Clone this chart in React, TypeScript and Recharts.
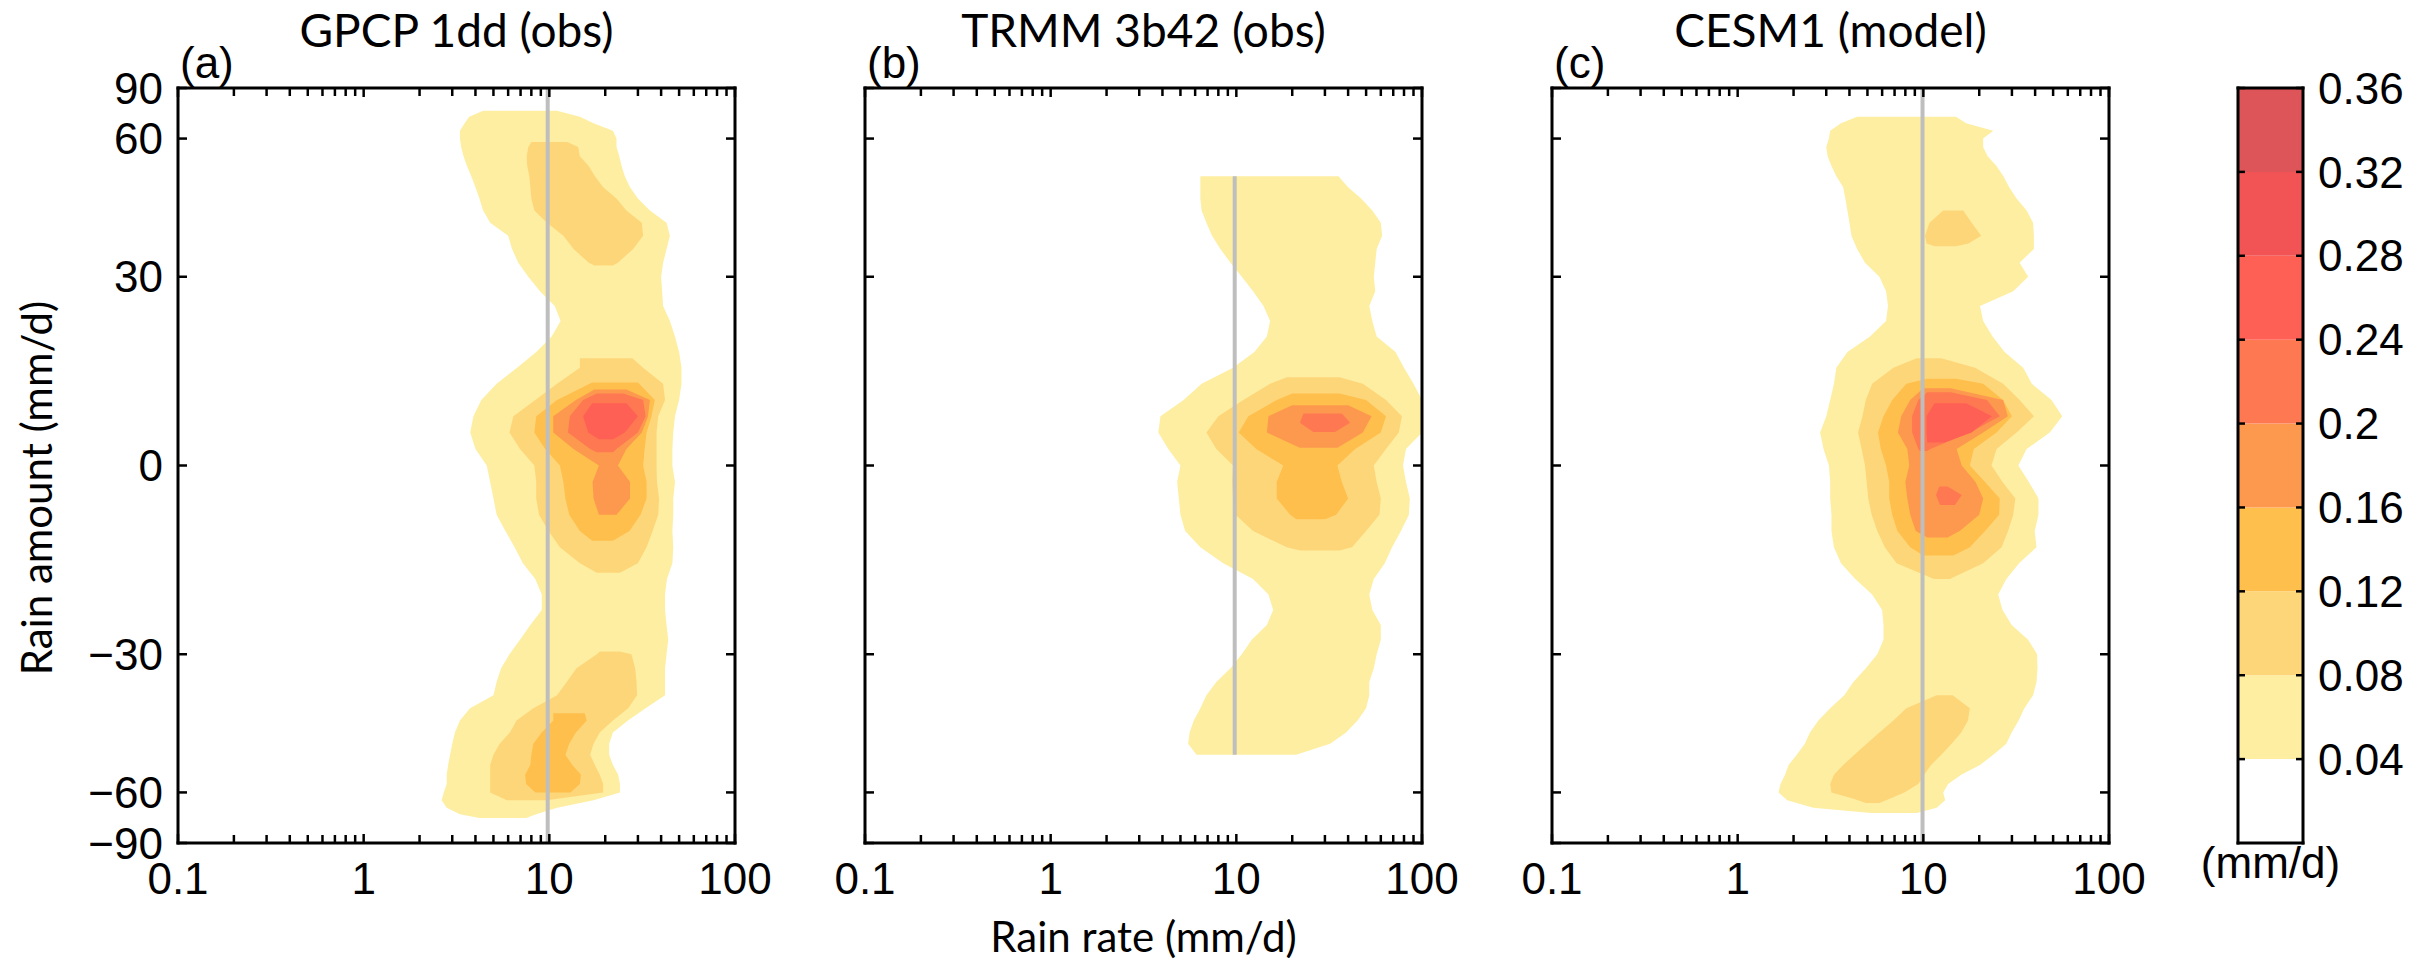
import React from 'react';
import { ComposedChart, Area, XAxis, YAxis, ReferenceLine, BarChart, Bar } from 'recharts';

type Row = [number, number | null, number | null];

// ---------- axis ticks / labels ----------
const rateTicks = [0.1, 1, 10, 100];
const rateMinorTicks = [0.2, 0.3, 0.4, 0.5, 0.6, 0.7, 0.8, 0.9, 2, 3, 4, 5, 6, 7, 8, 9, 20, 30, 40, 50, 60, 70, 80, 90];
const latTicks = [-90, -60, -30, 0, 30, 60, 90];
const levelBounds = [0, 0.04, 0.08, 0.12, 0.16, 0.2, 0.24, 0.28, 0.32, 0.36];
const colorbarTicks = [0.04, 0.08, 0.12, 0.16, 0.2, 0.24, 0.28, 0.32, 0.36];
const levelColors = ['#FFFFFF', '#FEEEA2', '#FED67A', '#FEBF4C', '#FD984F', '#FE7852', '#FF6055', '#F25456', '#DD5558'];
const panelTitles = ['GPCP 1dd (obs)', 'TRMM 3b42 (obs)', 'CESM1 (model)'];
const panelTags = ['(a)', '(b)', '(c)'];
const refRates = [9.8, 9.8, 9.9];
const trmmLatLimit = 50;

// ---------- contour bands: [latitude, low rain rate, high rain rate] ----------
const gpcpL1: Row[] = [
  [70, 4.4, 11], [67.5, 3.7, 14.6], [65, 3.5, 17.3], [62.5, 3.3, 22], [60, 3.3, 23], [57.5, 3.35, 23],
  [55, 3.45, 23.8], [52.5, 3.6, 24.5], [50, 3.8, 25.5], [47.5, 4.0, 27.2], [45, 4.2, 30], [42.5, 4.4, 34.8],
  [40, 4.8, 42.8], [37.5, 6.0, 44.6], [35, 6.3, 42.8], [32.5, 6.8, 41], [30, 7.7, 40], [27.5, 8.9, 40.5],
  [25, 10.7, 41], [22.5, 11.5, 44.6], [20, 10.3, 47.5], [17.5, 8.5, 50], [15, 6.7, 51.5], [12.5, 5.2, 51.5],
  [10, 4.3, 50], [7.5, 3.9, 47.5], [5, 3.75, 46.5], [2.5, 4.0, 46], [0, 4.6, 46], [-2.5, 4.8, 47.5],
  [-5, 5.0, 46.5], [-7.5, 5.2, 46.5], [-10, 5.8, 46], [-12.5, 6.5, 46.5], [-15, 7.2, 46], [-17.5, 8.4, 43],
  [-20, 9.1, 42], [-22.5, 9.1, 42], [-25, 7.9, 42.8], [-27.5, 6.95, 43.7], [-30, 6.1, 42.8], [-32.5, 5.5, 42],
  [-35, 5.2, 42], [-37.5, 5.0, 42], [-40, 3.74, 33], [-42.5, 3.3, 26.5], [-45, 3.1, 22], [-47.5, 3.0, 21],
  [-50, 2.92, 21], [-52.5, 2.85, 22], [-55, 2.8, 23.5], [-57.5, 2.8, 24], [-60, 2.7, 24], [-62.5, 2.63, 17.3],
  [-65, 2.8, 11], [-67.5, 3.3, 8.5], [-69, 4.2, 7.5],
];
const gpcpL2: Row[] = [
  [59, 8, 12.5], [57.5, 7.7, 14.3], [55, 7.55, 14.6], [52.5, 7.6, 16.3], [50, 7.8, 17.6], [47.5, 7.9, 19.5],
  [45, 8.0, 23], [42.5, 8.3, 26], [40, 9.7, 31.5], [37.5, 11.9, 32], [35, 13.5, 28.3], [32.5, 16.3, 23.4],
  [32, 17.5, 22], [25, null, null],
  [16.5, 14.6, 28], [15, 14.6, 32], [12.5, 11, 41], [10, 8.4, 42], [7.5, 6.4, 38.6], [5, 6.1, 37.8],
  [2.5, 6.95, 37.8], [0, 8.3, 37.8], [-2.5, 8.5, 38], [-5, 8.5, 39], [-7.5, 8.8, 38.6], [-10, 9.9, 36],
  [-12.5, 11.4, 33.4], [-15, 14.6, 30], [-16.5, 18, 24], [-22, null, null],
  [-29.5, 18.7, 24], [-30, 18, 27.7], [-32.5, 14, 29], [-35, 12.4, 29.5], [-37.5, 11, 29.7], [-40, 8.2, 26.6],
  [-42.5, 6.66, 22], [-45, 6.13, 18.7], [-47.5, 5.4, 17.3], [-50, 5.0, 16.6], [-52.5, 4.8, 17.6],
  [-55, 4.8, 18.7], [-57.5, 4.8, 19.5], [-60, 4.8, 19.5], [-62.5, 5.9, 9.7],
];
const gpcpL3: Row[] = [
  [12.7, 17, 30], [10, 11, 37], [7.5, 8.5, 35.5], [5, 8.3, 33.4], [2.5, 9.5, 32.6], [0, 11.4, 32],
  [-2.5, 11.9, 33.4], [-5, 12.2, 33.4], [-7.5, 12.8, 31], [-10, 14.6, 27], [-11.5, 17, 22], [-30, null, null],
  [-41, 10.5, 15.5], [-42.5, 10.5, 15.9], [-45, 9.1, 13.9], [-47.5, 8.2, 12.8], [-50, 8.0, 12.2],
  [-52.5, 7.9, 13.3], [-55, 7.4, 14.8], [-57.5, 7.5, 14.6], [-60, 8.4, 13],
];
const gpcpL4: Row[] = [
  [11.6, 17.5, 26], [10, 13.9, 34.8], [7.5, 10.5, 34], [5, 10.5, 31.5], [2.5, 13.5, 26], [0, 18.5, 23.4],
  [-2.5, 17.1, 27.2], [-5, 17.3, 27.2], [-7.5, 18.5, 23],
];
const gpcpL5: Row[] = [
  [11, 18, 25], [10, 15.2, 32], [7.5, 12.9, 33], [5, 12.6, 30], [2.5, 16.6, 23], [2, 18, 22],
];
const gpcpL6: Row[] = [
  [9.5, 17, 26], [7.5, 15.2, 30], [5, 16.2, 25.5], [4, 18.5, 22],
];

const trmmL1: Row[] = [
  [50, 6.4, 35.5], [47.5, 6.4, 40], [45, 6.4, 47], [42.5, 6.5, 54], [40, 6.9, 60], [37.5, 7.4, 61],
  [35, 8.2, 57], [32.5, 9.3, 56], [30, 10.7, 55], [27.5, 12.3, 56], [25, 14, 52], [22.5, 15.2, 54],
  [20, 14.6, 57], [17.5, 12.5, 72], [15, 9.6, 80], [12.5, 6.5, 90], [10, 5.2, 100], [7.5, 3.9, 100],
  [5, 3.8, 100], [2.5, 4.3, 82], [0, 5.0, 79], [-2.5, 4.8, 82], [-5, 4.9, 86], [-7.5, 5.0, 85],
  [-10, 5.3, 77], [-12.5, 6.4, 69], [-15, 8.5, 63], [-17.5, 12.3, 55], [-20, 14.9, 52], [-22.5, 15.8, 54],
  [-25, 14.6, 60], [-27.5, 12.1, 60], [-30, 10.7, 57], [-32.5, 9.3, 55], [-35, 7.8, 52], [-37.5, 6.9, 52],
  [-40, 6.4, 50], [-42.5, 5.9, 45], [-45, 5.6, 39], [-47.5, 5.5, 32], [-50, 6.1, 21],
];
const trmmL2: Row[] = [
  [13.5, 18.7, 36], [12.5, 15.2, 48], [10, 10.9, 64], [7.5, 8, 78], [5, 6.9, 75], [2.5, 7.8, 64],
  [0, 9.6, 55], [-2.5, 9.5, 57], [-5, 9.6, 60], [-7.5, 9.9, 59], [-10, 12.3, 50], [-12.5, 18.7, 42],
  [-13, 22, 36],
];
const trmmL3: Row[] = [
  [11, 20, 36], [10, 16.5, 50], [7.5, 11.6, 64], [5, 10.3, 60], [2.5, 12.8, 43.7], [0, 17.9, 35],
  [-2.5, 16.5, 37], [-5, 16.5, 40], [-7.5, 19.5, 34.5], [-8.2, 21, 30],
];
const trmmL4: Row[] = [
  [9.2, 20, 40], [7.5, 14.9, 53.5], [5, 14.6, 48], [2.7, 22, 35],
];
const trmmL5: Row[] = [
  [7.9, 23, 37], [6.5, 22, 41], [5.1, 26, 34],
];

const cesmL1: Row[] = [
  [67.5, 4.4, 15], [65, 3.6, 17], [62.5, 3.15, 23.8], [60, 3.1, 21], [57.5, 3.0, 21], [55, 3.05, 22.2],
  [52.5, 3.2, 24.8], [50, 3.4, 27], [47.5, 3.7, 29], [45, 3.8, 31.8], [42.5, 3.9, 36], [40, 4.0, 39],
  [37.5, 4.1, 39.4], [35, 4.4, 39.4], [32.5, 4.85, 33], [30, 5.8, 36.7], [27.5, 6.3, 30.5], [25, 6.45, 20.2],
  [22.5, 6.3, 21], [20, 5.16, 23.6], [17.5, 3.9, 27.4], [15, 3.4, 34.5], [12.5, 3.3, 38.4], [10, 3.15, 49],
  [7.5, 3.0, 56], [5, 2.78, 48], [2.5, 2.9, 36], [0, 3.1, 32.5], [-2.5, 3.15, 37], [-5, 3.15, 41.7],
  [-7.5, 3.2, 41.7], [-10, 3.2, 39.8], [-12.5, 3.3, 40.7], [-15, 3.6, 32.8], [-17.5, 4.3, 28],
  [-20, 5.3, 25.3], [-22.5, 6.0, 26.7], [-25, 6.1, 29.9], [-27.5, 6.1, 36.7], [-30, 5.65, 41],
  [-32.5, 4.9, 41.2], [-35, 4.2, 40.7], [-37.5, 3.75, 39], [-40, 3.15, 35], [-42.5, 2.72, 32.6],
  [-45, 2.45, 29.9], [-47.5, 2.3, 28], [-50, 2.08, 23.8], [-52.5, 1.88, 20.2], [-55, 1.8, 16],
  [-57.5, 1.7, 13.6], [-60, 1.66, 12.8], [-62.5, 1.85, 13.1], [-65, 2.55, 11.8], [-67, 5.2, 9.2],
];
const cesmL2: Row[] = [
  [42.5, 12.8, 16.4], [40, 10.8, 18.2], [37.5, 10.2, 20.5], [36, 10.4, 17.5], [35.5, 11.5, 15], [25, null, null],
  [16.5, 9.2, 12.5], [15, 6.9, 19], [12.5, 5.3, 26.9], [10, 4.9, 33], [7.5, 4.7, 39.4], [5, 4.45, 31.8],
  [2.5, 4.65, 24.8], [0, 4.85, 23.3], [-2.5, 4.95, 26.7], [-5, 5.05, 31.3], [-7.5, 5.27, 30.5],
  [-10, 5.65, 28.6], [-12.5, 6.2, 26.4], [-15, 7.18, 21], [-17.5, 11.4, 13.9], [-27, null, null],
  [-37.5, 11.8, 14.4], [-40, 8.1, 17.8], [-42.5, 6.9, 17.4], [-45, 5.8, 16], [-47.5, 4.95, 14.2],
  [-50, 4.25, 12.5], [-52.5, 3.7, 11], [-55, 3.3, 10.1], [-57.5, 3.15, 9.4], [-60, 3.2, 7.9],
  [-62, 4.2, 6.6], [-63.4, 4.9, 5.8],
];
const cesmL3: Row[] = [
  [13.3, 10.5, 15], [12.5, 8.1, 21], [10, 6.8, 26.9], [7.5, 6.1, 30], [5, 5.7, 24.8], [2.5, 5.9, 18.7],
  [0, 6.3, 17.8], [-2.5, 6.55, 21.5], [-5, 6.55, 25.8], [-7.5, 6.8, 25.6], [-10, 7.25, 21.5],
  [-12.5, 8.5, 17.8], [-13.8, 10, 14.5],
];
const cesmL4: Row[] = [
  [11.8, 10, 14], [10, 8.5, 26.9], [7.5, 7.6, 28.5], [5, 7.3, 21], [2.5, 8.2, 15.1], [0, 8.4, 16.1],
  [-2.5, 8.0, 19.1], [-5, 8.2, 21], [-7.5, 8.5, 20], [-10, 9.1, 15.7], [-11, 10.5, 13.5],
];
const cesmL5: Row[] = [
  [11.2, 10.5, 14], [10, 9.4, 22], [7.5, 8.7, 25.8], [5, 8.7, 17.8], [2.5, 9.4, 10.9], [2.2, 9.6, 10.5],
  [0, null, null], [-3.2, 12.2, 13.5], [-4.5, 11.7, 16.1], [-6, 12.3, 14.8],
];
const cesmL6: Row[] = [
  [9.5, 11.5, 17], [7.5, 10.4, 23.4], [5, 10.4, 18.2], [3.5, 10.5, 13],
];

const panelLevels: Row[][][] = [
  [gpcpL1, gpcpL2, gpcpL3, gpcpL4, gpcpL5, gpcpL6],
  [trmmL1, trmmL2, trmmL3, trmmL4, trmmL5],
  [cesmL1, cesmL2, cesmL3, cesmL4, cesmL5, cesmL6],
];

// ---------- layout ----------
const FRAME_LEFTS = [178, 865, 1552];
const FRAME_TOP = 88;
const FRAME_W = 557;
const FRAME_H = 755;
const TOP_SPACE = 40;
const BOTTOM_SPACE = 100;
const LEFT_SPACE = 140;
const RIGHT_SPACE = 60;
const YLAB_W = 130;
const XLAB_H = 80;
const CB_LEFT = 2238;
const CB_W = 65;

const sinDeg = (d: number) => Math.sin((d * Math.PI) / 180);
const latTickPos = latTicks.map(sinDeg);
const axisRows = latTickPos.map((s) => ({ s }));
const toSeries = (rows: Row[]) =>
  rows.map(([lat, lo, hi]) => ({ s: sinDeg(lat), v: lo === null || hi === null ? null : [lo, hi] }));
const fmtLat = (v: number) => {
  const d = Math.round((Math.asin(Math.max(-1, Math.min(1, v))) * 180) / Math.PI);
  return d < 0 ? '\u2212' + Math.abs(d) : String(d);
};
const fmtRate = (v: number) => String(v);
const fmtNone = () => '';

const ARIAL = '"Liberation Sans", Arial, Helvetica, sans-serif';
const TITLE_FONT = 'Lato, "Open Sans", sans-serif';
const frameLine = { stroke: '#000', strokeWidth: 3, strokeLinecap: 'square' as const };
const tickStyle = { stroke: '#000', strokeWidth: 2.5 };
const tickFont = { fontFamily: ARIAL, fontSize: 44, fill: '#000' };
const hiddenTick = { fontSize: 1, fill: 'none' };

function ContourPanel({ idx }: { idx: number }) {
  const left = FRAME_LEFTS[idx];
  const showY = idx === 0;
  const width = LEFT_SPACE + FRAME_W + RIGHT_SPACE;
  const height = TOP_SPACE + FRAME_H + BOTTOM_SPACE;
  const ref = refRates[idx];
  const xCommon = {
    type: 'number' as const,
    scale: 'log' as const,
    domain: [0.1, 100],
    allowDataOverflow: true,
    interval: 0 as const,
  };
  const yCommon = {
    type: 'number' as const,
    dataKey: 's',
    domain: [-1, 1],
    allowDataOverflow: true,
    reversed: true,
    ticks: latTickPos,
    interval: 0 as const,
  };
  const markX = { tick: hiddenTick, tickFormatter: fmtNone, tickLine: tickStyle, mirror: true, height: 1 };
  const markY = { tick: hiddenTick, tickFormatter: fmtNone, tickLine: tickStyle, mirror: true, width: 1 };
  return (
    <div style={{ position: 'absolute', left: left - LEFT_SPACE, top: FRAME_TOP - TOP_SPACE }}>
      <ComposedChart
        layout="vertical"
        width={width}
        height={height}
        data={axisRows}
        margin={{ top: TOP_SPACE, right: RIGHT_SPACE, bottom: BOTTOM_SPACE - XLAB_H, left: showY ? LEFT_SPACE - YLAB_W : LEFT_SPACE }}
      >
        <XAxis xAxisId="x" {...xCommon} {...markX} ticks={rateTicks} orientation="bottom" tickSize={9} axisLine={frameLine} />
        <XAxis xAxisId="xm" {...xCommon} {...markX} ticks={rateMinorTicks} orientation="bottom" tickSize={7} axisLine={false} />
        <XAxis xAxisId="xt" {...xCommon} {...markX} ticks={rateTicks} orientation="top" tickSize={9} axisLine={frameLine} />
        <XAxis xAxisId="xtm" {...xCommon} {...markX} ticks={rateMinorTicks} orientation="top" tickSize={7} axisLine={false} />
        <XAxis xAxisId="xl" {...xCommon} ticks={rateTicks} orientation="bottom" height={XLAB_H} tick={tickFont} tickFormatter={fmtRate} tickLine={false} axisLine={false} tickSize={0} tickMargin={20} />
        <YAxis yAxisId="y" {...yCommon} {...markY} orientation="left" tickSize={9} axisLine={frameLine} />
        <YAxis yAxisId="yr" {...yCommon} {...markY} orientation="right" tickSize={9} axisLine={frameLine} />
        {showY && (
          <YAxis yAxisId="yl" {...yCommon} orientation="left" width={YLAB_W} tick={tickFont} tickFormatter={fmtLat} tickLine={false} axisLine={false} tickSize={0} tickMargin={15} />
        )}
        {panelLevels[idx].map((rows, i) => (
          <Area
            key={`lvl${i}`}
            xAxisId="x"
            yAxisId="y"
            data={toSeries(rows)}
            dataKey="v"
            type="linear"
            stroke="none"
            fill={levelColors[i + 1]}
            fillOpacity={1}
            connectNulls={false}
            dot={false}
            activeDot={false}
            isAnimationActive={false}
          />
        ))}
        {idx === 1 ? (
          <ReferenceLine
            xAxisId="x"
            yAxisId="y"
            segment={[{ x: ref, y: sinDeg(-trmmLatLimit) }, { x: ref, y: sinDeg(trmmLatLimit) }]}
            stroke="#BEBEBE"
            strokeWidth={4}
          />
        ) : (
          <ReferenceLine xAxisId="x" yAxisId="y" x={ref} stroke="#BEBEBE" strokeWidth={4} />
        )}
      </ComposedChart>
    </div>
  );
}

function Colorbar() {
  const row: Record<string, number | string> = { name: 'cb' };
  levelColors.forEach((_, i) => {
    row[`b${i}`] = levelBounds[i + 1] - levelBounds[i];
  });
  const yCommon = {
    type: 'number' as const,
    domain: [0, 0.36],
    allowDataOverflow: true,
    ticks: colorbarTicks,
    interval: 0 as const,
  };
  const markY = { tick: hiddenTick, tickFormatter: fmtNone, tickLine: tickStyle, mirror: true, width: 1 };
  return (
    <div style={{ position: 'absolute', left: CB_LEFT - 10, top: FRAME_TOP - TOP_SPACE }}>
      <BarChart
        width={10 + CB_W + 150}
        height={TOP_SPACE + FRAME_H + 20}
        data={[row]}
        margin={{ top: TOP_SPACE, right: 0, bottom: 20, left: 10 }}
        barCategoryGap={0}
        barGap={0}
      >
        <XAxis dataKey="name" type="category" orientation="bottom" mirror height={1} tick={false} tickLine={false} axisLine={frameLine} />
        <XAxis xAxisId="t" dataKey="name" type="category" orientation="top" mirror height={1} tick={false} tickLine={false} axisLine={frameLine} />
        <YAxis yAxisId="c" {...yCommon} {...markY} orientation="left" tickSize={7} axisLine={frameLine} />
        <YAxis yAxisId="cr" {...yCommon} {...markY} orientation="right" tickSize={7} axisLine={frameLine} />
        <YAxis yAxisId="cl" {...yCommon} orientation="right" width={150} tick={tickFont} tickLine={false} axisLine={false} tickSize={0} tickMargin={15} />
        {levelColors.map((c, i) => (
          <Bar key={`b${i}`} dataKey={`b${i}`} stackId="cb" yAxisId="c" fill={c} stroke="none" isAnimationActive={false} />
        ))}
      </BarChart>
    </div>
  );
}

export default function App() {
  return (
    <div style={{ position: 'absolute', left: 0, top: 0, width: 2433, height: 965, background: '#fff', overflow: 'hidden' }}>
      {[0, 1, 2].map((i) => (
        <ContourPanel key={i} idx={i} />
      ))}
      <Colorbar />
      <svg width={2433} height={965} style={{ position: 'absolute', left: 0, top: 0, pointerEvents: 'none' }}>
        {panelTitles.map((t, i) => (
          <text key={t} x={FRAME_LEFTS[i] + FRAME_W / 2} y={47} textAnchor="middle" fontFamily={TITLE_FONT} fontSize={46} fill="#000">
            {t}
          </text>
        ))}
        {panelTags.map((t, i) => (
          <text key={t} x={FRAME_LEFTS[i] + 2} y={78} fontFamily={ARIAL} fontSize={44} fill="#000">
            {t}
          </text>
        ))}
        <text transform="translate(52, 488) rotate(-90)" textAnchor="middle" fontFamily={TITLE_FONT} fontSize={42} fill="#000">
          Rain amount (mm/d)
        </text>
        <text x={FRAME_LEFTS[1] + FRAME_W / 2} y={952} textAnchor="middle" fontFamily={TITLE_FONT} fontSize={42} fill="#000">
          Rain rate (mm/d)
        </text>
        <text x={CB_LEFT + CB_W / 2} y={878} textAnchor="middle" fontFamily={ARIAL} fontSize={44} fill="#000">
          (mm/d)
        </text>
      </svg>
    </div>
  );
}
